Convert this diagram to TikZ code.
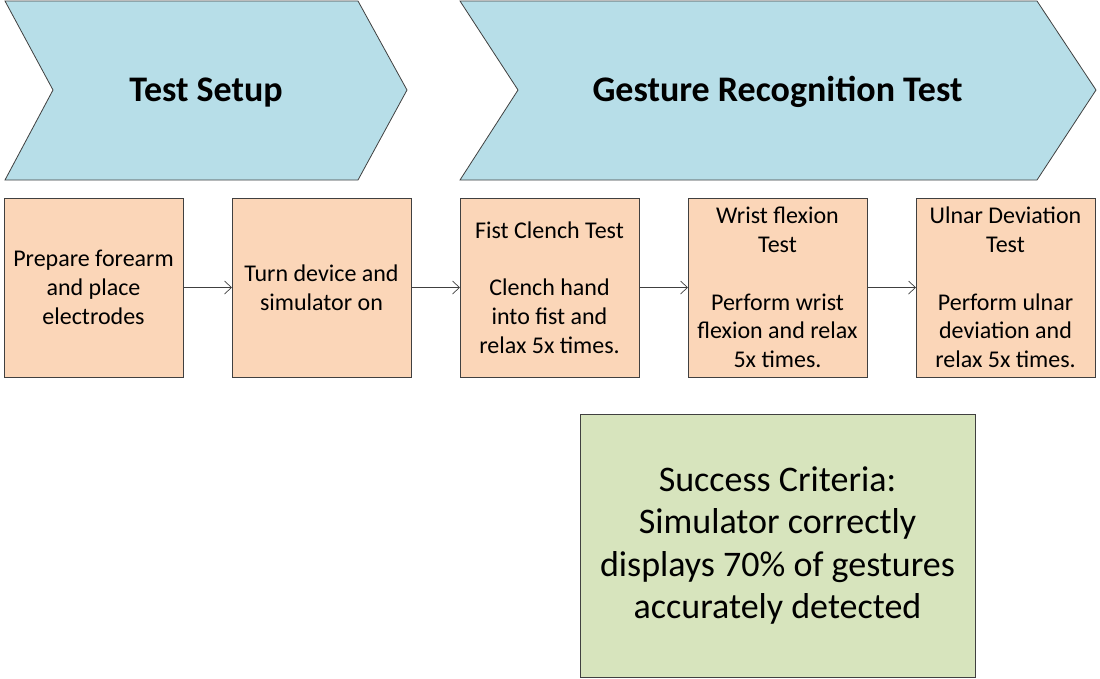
\documentclass[tikz,border=0pt]{standalone}
\usepackage{fontspec}
\setmainfont{Carlito}
\usepackage{tikz}
\usetikzlibrary{arrows.meta}

\definecolor{chevblue}{RGB}{183,222,232}
\definecolor{steporange}{RGB}{251,214,184}
\definecolor{critgreen}{RGB}{215,228,189}
\definecolor{edgegray}{RGB}{64,64,64}

\tikzset{
  chevron/.style={fill=chevblue, draw=edgegray, line width=0.8pt},
  title/.style={anchor=base, font=\fontsize{36}{42}\selectfont\bfseries},
  stepbox/.style={rectangle, fill=steporange, draw=edgegray, line width=0.8pt,
    minimum width=179pt, minimum height=179pt, inner sep=0pt, outer sep=0pt,
    align=center, font=\fontsize{24}{28.7}\selectfont},
  critbox/.style={rectangle, fill=critgreen, draw=edgegray, line width=0.8pt,
    minimum width=395pt, minimum height=263pt, inner sep=0pt, outer sep=0pt,
    align=center, font=\fontsize{36}{42.5}\selectfont},
  flow/.style={-{Straight Barb[length=7pt, width=13pt]}, line width=0.7pt, draw=edgegray}
}

\begin{document}
\begin{tikzpicture}[x=1pt, y=-1pt]
  \useasboundingbox (0,0) rectangle (1100,678);
  % phase chevrons
  \draw[chevron] (5,1) -- (358,1) -- (407,90) -- (358,180) -- (5,180) -- (53,90) -- cycle;
  \draw[chevron] (460,1) -- (1037,1) -- (1096,90) -- (1037,180) -- (460,180) -- (518,90) -- cycle;
  \node[title] (setup) at (206,101) {Test Setup};
  \node[title] (gesture) at (777.5,101) {Gesture Recognition Test};
  % steps
  \node[stepbox] (prep) at (93.5,287.5) {Prepare forearm\\and place\\electrodes};
  \node[stepbox] (turn) at (321.5,287.5) {Turn device and\\simulator on};
  \node[stepbox] (fist) at (549.5,287.5) {Fist Clench Test\\[28.7pt]Clench hand\\into fist and\\relax 5x times.};
  \node[stepbox] (wrist) at (777.5,287.5) {Wrist flexion\\Test\\[28.7pt]Perform wrist\\flexion and relax\\5x times.};
  \node[stepbox] (ulnar) at (1005.5,287.5) {Ulnar Deviation\\Test\\[28.7pt]Perform ulnar\\deviation and\\relax 5x times.};
  \node[critbox] (crit) at (777.5,545.5) {Success Criteria:\\Simulator correctly\\displays 70\% of gestures\\accurately detected};
  \path[flow] (prep) edge[flow] (turn)
              (turn) edge[flow] (fist)
              (fist) edge[flow] (wrist)
              (wrist) edge[flow] (ulnar);
\end{tikzpicture}
\end{document}
